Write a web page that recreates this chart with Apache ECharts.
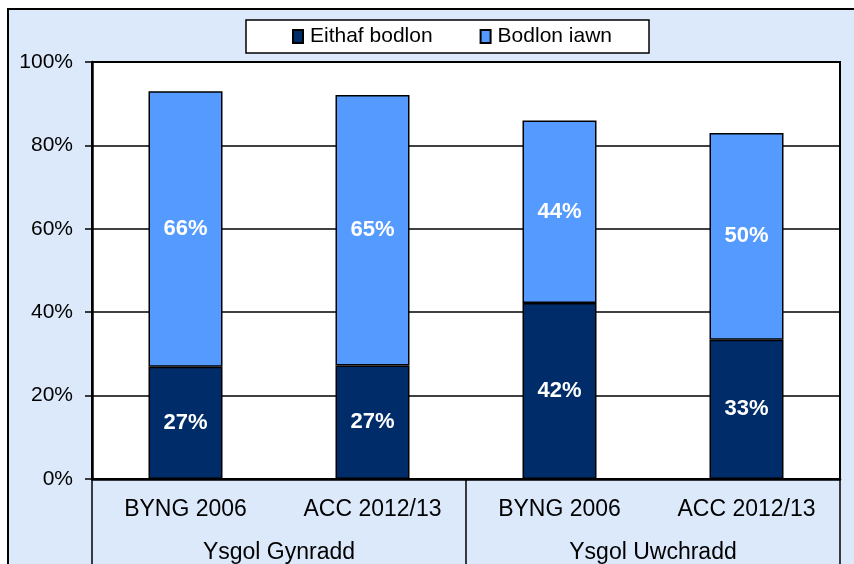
<!DOCTYPE html>
<html>
<head>
<meta charset="utf-8">
<script src="https://cdn.jsdelivr.net/npm/echarts@6/dist/echarts.min.js"></script>
<style>
  html, body { margin: 0; padding: 0; background: #fff; }
  #main { width: 854px; height: 564px; }
</style>
</head>
<body>
<div id="main"></div>
<script>
  // bar categories and their groups
  const years = ["BYNG 2006", "ACC 2012/13", "BYNG 2006", "ACC 2012/13"];
  const groups = ["Ysgol Gynradd", "Ysgol Uwchradd"];
  const seriesNames = ["Eithaf bodlon", "Bodlon iawn"];
  // percentages
  const eithafBodlon = [26.9, 27.2, 42.2, 33.4];
  const bodlonIawn = [66.1, 64.9, 43.8, 49.6];
  const yTicks = [0, 20, 40, 60, 80, 100];

  const font = "'Liberation Sans', Arial, sans-serif";
  const darkBlue = "#002d69";
  const lightBlue = "#559bff";

  var chartDom = document.getElementById("main");
  var myChart = echarts.init(chartDom);

  const barLabel = {
    show: true,
    position: "inside",
    color: "#fff",
    fontWeight: "bold",
    fontSize: 22,
    fontFamily: font,
    formatter: (p) => Math.round(p.value) + "%",
  };

  var option = {
    animation: false,
    backgroundColor: "#fff",
    textStyle: { fontFamily: font },
    graphic: [
      {
        type: "rect",
        silent: true,
        z: -10,
        shape: { x: 8, y: 9, width: 900, height: 600 },
        style: { fill: "#dce9fb", stroke: "#000", lineWidth: 2 },
      },
    ],
    legend: {
      data: seriesNames,
      left: 246,
      top: 20,
      padding: [6, 37, 6, 46],
      itemGap: 47,
      itemWidth: 10,
      itemHeight: 13,
      icon: "rect",
      backgroundColor: "#fff",
      borderColor: "#000",
      borderWidth: 1.5,
      textStyle: { fontSize: 21, color: "#000", fontFamily: font, padding: [0, 0, 0, 2] },
    },
    grid: {
      left: 92,
      right: 14,
      top: 62,
      bottom: 85,
      show: true,
      backgroundColor: "#fff",
      borderColor: "#000",
      borderWidth: 2,
    },
    xAxis: [
      {
        type: "category",
        data: years,
        position: "bottom",
        axisLine: { lineStyle: { color: "#000", width: 2.5 } },
        axisTick: { show: false },
        axisLabel: { margin: 19, fontSize: 23, color: "#000", fontFamily: font },
      },
      {
        type: "category",
        data: groups,
        position: "bottom",
        axisLine: { show: false },
        axisTick: { show: true, length: 86, lineStyle: { color: "#000", width: 1.5 } },
        axisLabel: { margin: 62, fontSize: 23, color: "#000", fontFamily: font },
      },
    ],
    yAxis: {
      type: "value",
      min: yTicks[0],
      max: yTicks[yTicks.length - 1],
      interval: 20,
      axisLine: { show: true, lineStyle: { color: "#000", width: 2.5 } },
      axisTick: { show: true, length: 7, lineStyle: { color: "#000", width: 1.5 } },
      axisLabel: { margin: 19, fontSize: 21, color: "#000", fontFamily: font, formatter: "{value}%" },
      splitLine: { lineStyle: { color: "#000", width: 1.5 } },
    },
    series: [
      {
        name: seriesNames[0],
        type: "bar",
        stack: "total",
        xAxisIndex: 0,
        barWidth: 74,
        data: eithafBodlon,
        itemStyle: { color: darkBlue, borderColor: "#000", borderWidth: 1.5 },
        label: barLabel,
      },
      {
        name: seriesNames[1],
        type: "bar",
        stack: "total",
        xAxisIndex: 0,
        barWidth: 74,
        data: bodlonIawn,
        itemStyle: { color: lightBlue, borderColor: "#000", borderWidth: 1.5 },
        label: barLabel,
      },
    ],
  };

  option && myChart.setOption(option);
</script>
</body>
</html>
